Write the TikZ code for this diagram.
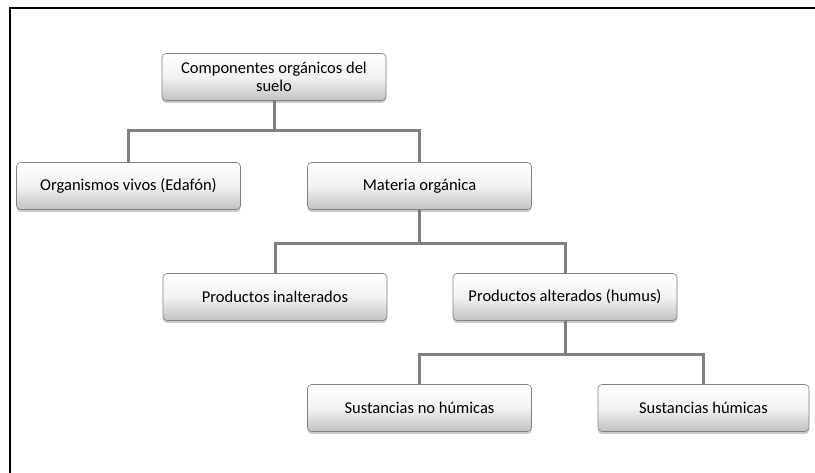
\documentclass[tikz,border=0pt]{standalone}
\usepackage{fontspec}
\setmainfont{Carlito}
\usetikzlibrary{shadows,backgrounds}
\begin{document}
\begin{tikzpicture}[x=1pt,y=-1pt,
  cbox/.style={draw=black!50, line width=0.6pt, rounded corners=4pt,
    top color=white, bottom color=black!24, middle color=black!5,
    minimum width=224pt, minimum height=47pt, inner sep=2pt,
    font=\fontsize{16.5}{18}\selectfont, align=center,
    drop shadow={shadow xshift=0pt, shadow yshift=-2.5pt, opacity=0.35, fill=black!60}},
  link/.style={draw=black!50, line width=3pt}]
\useasboundingbox (0,0) rectangle (815,473);
% frame
\draw[line width=1.6pt, black] (10,473) -- (10,8) -- (815,8);

% boxes
\node[cbox] (top) at (274,77) {Componentes orgánicos del\\suelo};
\node[cbox] (org) at (128.5,186) {Organismos vivos (Edafón)};
\node[cbox] (mat) at (419.5,186) {Materia orgánica};
\node[cbox] (pin) at (275,297) {Productos inalterados};
\node[cbox] (pal) at (565,297) {Productos alterados (humus)};
\node[cbox] (sno) at (419.5,408) {Sustancias no húmicas};
\node[cbox, minimum width=211pt] (shu) at (703.5,408) {Sustancias húmicas};

% connectors
\begin{scope}[on background layer]
\draw[link] (top.south) -- ++(0,30) coordinate (j1);
\draw[link] (org.north) |- (j1) -| (mat.north);
\draw[link] (mat.south) -- ++(0,34) coordinate (j2);
\draw[link] (pin.north) |- (j2) -| (pal.north);
\draw[link] (pal.south) -- ++(0,34) coordinate (j3);
\draw[link] (sno.north) |- (j3) -| (shu.north);
\end{scope}
\end{tikzpicture}
\end{document}
